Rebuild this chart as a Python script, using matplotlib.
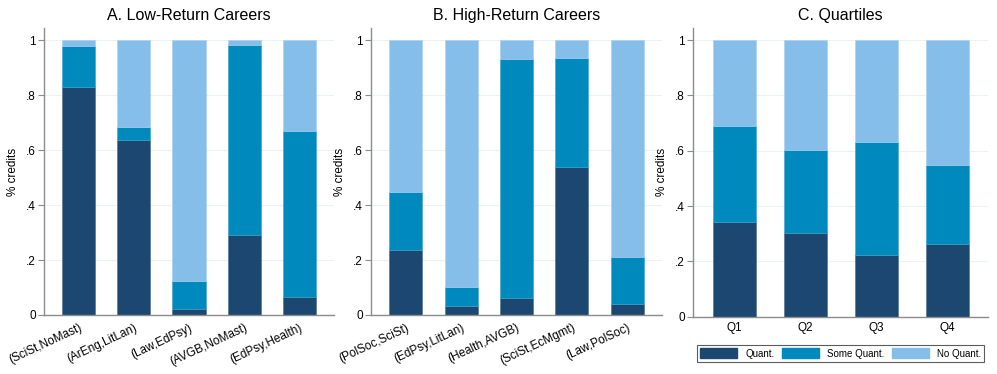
import matplotlib.pyplot as plt
import numpy as np

plt.rcParams['font.family'] = ['Liberation Sans', 'DejaVu Sans']

# panel A
low_labels = ['(SciSt,NoMast)', '(ArEng,LitLan)', '(Law,EdPsy)', '(AVGB,NoMast)', '(EdPsy,Health)']
low_quant = [0.828, 0.636, 0.021, 0.292, 0.067]
low_some = [0.152, 0.048, 0.103, 0.690, 0.602]

# panel B
high_labels = ['(PolSoc,SciSt)', '(EdPsy,LitLan)', '(Health,AVGB)', '(SciSt,EcMgmt)', '(Law,PolSoc)']
high_quant = [0.236, 0.033, 0.063, 0.540, 0.040]
high_some = [0.212, 0.070, 0.868, 0.397, 0.172]

# panel C
q_labels = ['Q1', 'Q2', 'Q3', 'Q4']
q_quant = [0.343, 0.302, 0.224, 0.262]
q_some = [0.346, 0.300, 0.407, 0.286]

series_names = ['Quant.', 'Some Quant.', 'No Quant.']
colors = ['#1b4770', '#0089bd', '#85bee9']
grid_col = '#eaf2f3'
spine_col = '#8c8c8c'

fig = plt.figure(figsize=(9.97, 3.74), dpi=100)

panels = [
    ('A. Low-Return Careers', low_labels, low_quant, low_some, [0.0441, 0.1578, 0.2909, 0.767], True),
    ('B. High-Return Careers', high_labels, high_quant, high_some, [0.3721, 0.1578, 0.2919, 0.767], True),
    ('C. Quartiles', q_labels, q_quant, q_some, [0.6951, 0.1532, 0.2959, 0.772], False),
]

for title, labels, quant, some, rect, rotate in panels:
    ax = fig.add_axes(rect)
    x = np.arange(len(labels))
    quant = np.array(quant)
    some = np.array(some)
    none = 1 - quant - some
    ax.bar(x, quant, width=0.6, color=colors[0], edgecolor='#4a6d8d', linewidth=0.4, zorder=2)
    ax.bar(x, some, bottom=quant, width=0.6, color=colors[1], edgecolor='#3aa3cc', linewidth=0.4, zorder=2)
    ax.bar(x, none, bottom=quant + some, width=0.6, color=colors[2], edgecolor='#a6d0ef', linewidth=0.4, zorder=2)

    ax.set_ylim(0, 1.044)
    if rotate:
        ax.set_xlim(-0.63, len(labels) - 1 + 0.63)
    else:
        ax.set_xlim(-0.585, len(labels) - 1 + 0.575)
    ax.set_yticks([0, 0.2, 0.4, 0.6, 0.8, 1.0])
    ax.set_yticklabels(['0', '.2', '.4', '.6', '.8', '1'], fontsize=8.5)
    ax.yaxis.grid(True, color=grid_col, linewidth=0.8, zorder=0)
    ax.set_axisbelow(True)
    ax.set_xticks(x)
    if rotate:
        ax.set_xticklabels(labels, rotation=25, ha='right', rotation_mode='anchor', fontsize=8.5)
        ax.tick_params(axis='x', length=0, pad=5)
    else:
        ax.set_xticklabels(labels, fontsize=8.5)
        ax.tick_params(axis='x', length=0, pad=4)
    ax.tick_params(axis='y', length=4, color=spine_col, pad=2)
    ax.set_ylabel('% credits', fontsize=8.5, labelpad=5)
    ax.set_title(title, fontsize=11.5, pad=6)
    for s in ['top', 'right']:
        ax.spines[s].set_visible(False)
    for s in ['left', 'bottom']:
        ax.spines[s].set_color(spine_col)
        ax.spines[s].set_linewidth(1.0)

handles = [plt.Rectangle((0, 0), 1, 1, color=c) for c in colors]
leg = fig.legend(handles, series_names, ncol=3, loc='lower left',
                 bbox_to_anchor=(0.699, 0.032, 0.288, 0.0615), mode='expand',
                 fontsize=7, fancybox=False, frameon=True, edgecolor='#333333',
                 handlelength=3.8, handleheight=1.2, handletextpad=0.8,
                 columnspacing=1.0, borderpad=0.35, borderaxespad=0)
leg.get_frame().set_linewidth(0.8)

fig.savefig('out.png', dpi=100)
